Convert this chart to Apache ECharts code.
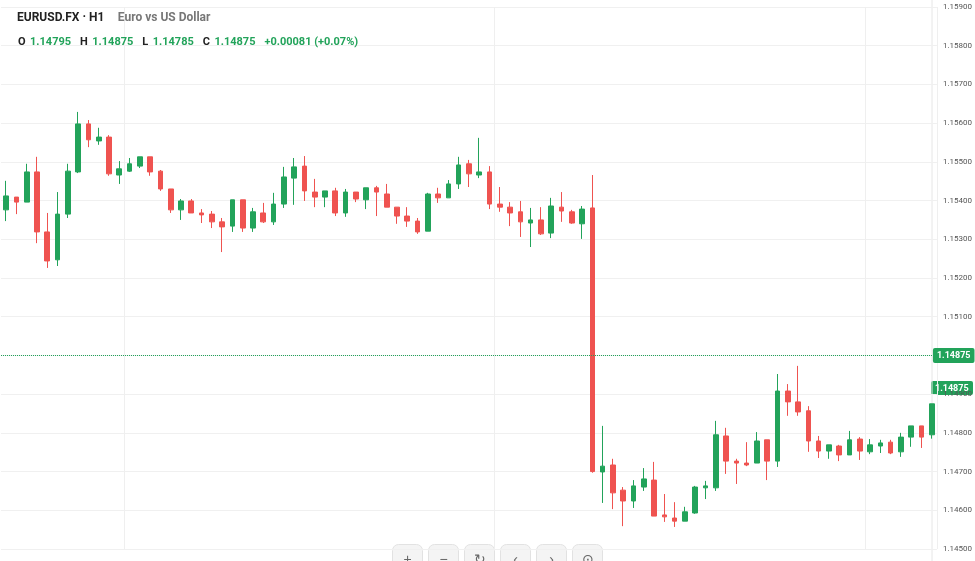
<!DOCTYPE html>
<html><head><meta charset="utf-8">
<script src="https://cdn.jsdelivr.net/npm/echarts@6/dist/echarts.min.js"></script>
<style>html,body{margin:0;padding:0;background:#fff}#c{width:975px;height:561px}</style>
</head><body><div id="c"></div>
<script>
// [open, close, low, high] in units of 1e-5
const candles = [
[115376,115412,115347,115451],[115409,115396,115365,115409],[115396,115474,115396,115495],[115474,115319,115290,115513],
[115319,115244,115226,115368],[115247,115365,115231,115422],[115365,115476,115355,115495],[115474,115598,115471,115629],
[115598,115557,115538,115608],[115554,115564,115544,115588],[115564,115469,115464,115569],[115466,115482,115443,115502],
[115476,115495,115474,115510],[115489,115513,115484,115513],[115513,115474,115464,115513],[115476,115430,115425,115479],
[115430,115376,115368,115430],[115376,115399,115350,115404],[115399,115368,115368,115404],[115368,115363,115342,115378],
[115365,115345,115329,115373],[115345,115332,115267,115355],[115334,115402,115319,115402],[115402,115329,115319,115402],
[115329,115371,115319,115381],[115368,115345,115342,115394],[115345,115391,115337,115420],[115391,115461,115381,115487],
[115458,115487,115389,115510],[115489,115425,115399,115515],[115422,115409,115383,115456],[115409,115425,115383,115425],
[115425,115368,115360,115433],[115368,115422,115358,115430],[115422,115404,115396,115422],[115402,115433,115378,115433],
[115433,115422,115360,115438],[115417,115383,115383,115443],[115383,115360,115340,115383],[115360,115347,115332,115383],
[115347,115319,115314,115355],[115321,115417,115321,115420],[115417,115407,115394,115433],[115407,115443,115407,115453],
[115443,115492,115430,115513],[115495,115469,115435,115505],[115466,115474,115458,115562],[115474,115391,115378,115489],
[115391,115383,115371,115435],[115383,115368,115334,115396],[115371,115345,115306,115399],[115342,115350,115280,115381],
[115350,115314,115311,115383],[115316,115386,115303,115407],[115383,115373,115345,115422],[115371,115342,115340,115376],
[115340,115378,115301,115386],[115381,114700,114697,115466],[114699,114714,114619,114818],[114717,114645,114603,114733],
[114652,114624,114559,114660],[114624,114663,114606,114678],[114660,114681,114650,114709],[114678,114585,114585,114725],
[114588,114583,114570,114642],[114580,114572,114557,114621],[114572,114596,114572,114609],[114593,114660,114591,114663],
[114658,114663,114629,114676],[114658,114795,114650,114831],[114792,114727,114694,114813],[114727,114722,114668,114733],
[114722,114717,114714,114776],[114722,114779,114722,114802],[114782,114727,114678,114782],[114727,114908,114712,114952],
[114908,114880,114844,114926],[114880,114854,114844,114973],[114857,114779,114751,114869],[114779,114753,114735,114792],
[114753,114769,114733,114769],[114766,114743,114727,114769],[114743,114782,114743,114805],[114784,114753,114730,114789],
[114751,114769,114745,114784],[114766,114774,114748,114782],[114776,114748,114745,114782],[114751,114789,114738,114800],
[114789,114818,114764,114818],[114818,114789,114761,114818],[114795,114875,114785,114875]
];
const categories = candles.map((_, i) => 'H' + (i + 1));
const lastClose = 1.14875, sessionHigh = 1.15631, sessionLow = 1.14557;
const header = {sym:'EURUSD.FX · H1', name:'Euro vs US Dollar', o:'1.14795', h:'1.14875', l:'1.14785', c:'1.14875', chg:'+0.00081 (+0.07%)'};

const UP = '#22a35a', DOWN = '#ef5350';
const data = candles.map(r => r.map(v => v / 100000));
const chart = echarts.init(document.getElementById('c'));
chart.setOption({
  animation:false,
  textStyle:{fontFamily:'Roboto, "Noto Sans", sans-serif'},
  title:[{
    left:12, top:4,
    text:'{b|'+header.sym+'}   {g|'+header.name+'}',
    textStyle:{rich:{b:{fontSize:12,fontWeight:'bold',color:'#222'},g:{fontSize:12,color:'#777'}}}
  },{
    left:13, top:28,
    text:'{k|O} {v|'+header.o+'}  {k|H} {v|'+header.h+'}  {k|L} {v|'+header.l+'}  {k|C} {v|'+header.c+'}  {v|'+header.chg+'}',
    textStyle:{rich:{k:{fontSize:11,color:'#222'},v:{fontSize:11,color:UP}}}
  }],
  grid:{left:1, right:38, top:7, bottom:12},
  xAxis:{type:'category', data:categories, boundaryGap:true,
    axisLine:{show:false}, axisTick:{show:false}, axisLabel:{show:false},
    splitLine:{show:true, interval:(i)=> i%36===12, lineStyle:{color:'#efefef'}}},
  yAxis:{type:'value', position:'right', min:1.145, max:1.159, interval:0.001, scale:true,
    axisLine:{show:false}, axisTick:{show:false},
    axisLabel:{margin:6, fontSize:8, color:'#555', formatter:v=>v.toFixed(5)},
    splitLine:{lineStyle:{color:'#f0f0f0'}}},
  series:[{
    type:'candlestick', data:data, barMaxWidth:7,
    itemStyle:{color:UP, color0:DOWN, borderColor:UP, borderColor0:DOWN, borderWidth:1}
  },{
    type:'line', data:categories.map(()=>null), symbol:'none', silent:true,
    markLine:{symbol:'none', silent:true, data:[
      {yAxis:sessionHigh, lineStyle:{type:'dotted', color:'#999', width:1}, label:{show:false}},
      {yAxis:sessionLow, lineStyle:{type:'dotted', color:DOWN, width:1}, label:{show:false}},
      {yAxis:lastClose, lineStyle:{type:'dotted', color:UP, width:1},
        label:{show:true, position:'end', formatter:'1.14875', color:'#fff', backgroundColor:UP,
          fontSize:9, fontWeight:'bold', padding:[3,4], borderRadius:2, distance:-4}}
    ]}
  }],
  graphic:[
    {type:'group', right:2, top:381, children:[
      {type:'rect', shape:{x:0,y:0,width:42,height:14,r:2}, style:{fill:UP}},
      {type:'text', style:{x:4,y:3,text:'1.14875', fill:'#fff', font:'bold 9px Roboto'}}
    ]},
    {type:'line', shape:{x1:932,y1:0,x2:932,y2:561}, style:{stroke:'#e6e6e6'}},
    {type:'group', left:392, top:544, children:['+','−','↻','‹','›','⊙'].map((t,i)=>({
      type:'group', x:i*36, children:[
        {type:'rect', shape:{x:0,y:0,width:30,height:30,r:6}, style:{fill:'#f4f4f4', stroke:'#e2e2e2'}},
        {type:'text', style:{x:15,y:9,text:t,fill:'#666',font:'14px sans-serif',align:'center'}}
      ]}))}
  ]
});
</script></body></html>
